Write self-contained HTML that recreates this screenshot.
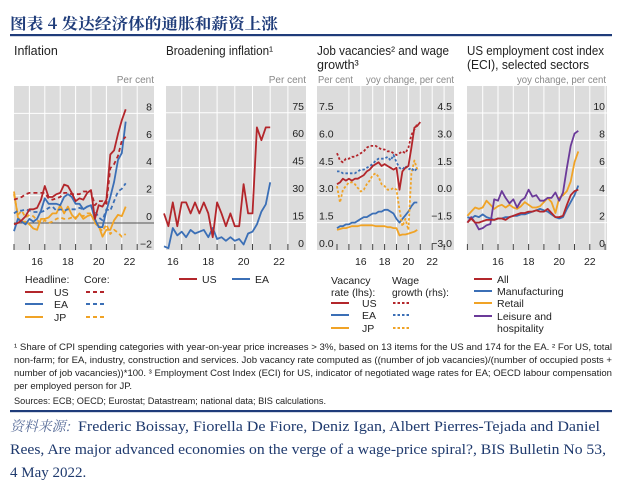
<!DOCTYPE html>
<html><head><meta charset="utf-8"><style>
html,body{margin:0;padding:0;background:#fff;}
svg{display:block;font-family:"Liberation Sans","Noto Sans CJK SC",sans-serif;}
</style></head><body>
<svg id="chart" width="634" height="492" viewBox="0 0 634 492" xmlns="http://www.w3.org/2000/svg">
<text x="10" y="29" font-size="15.5" font-weight="bold" fill="#1f3c7a" textLength="268" lengthAdjust="spacingAndGlyphs" font-family="'Noto Serif CJK SC','Liberation Serif',serif">图表 4  发达经济体的通胀和薪资上涨</text>
<rect x="10" y="34" width="602" height="2.2" fill="#1f3c7a"/>
<g id="panels"></g>
<g font-size="9" fill="#222">
<text x="14" y="350" textLength="598" lengthAdjust="spacingAndGlyphs">¹  Share of CPI spending categories with year-on-year price increases &gt; 3%, based on 13 items for the US and 174 for the EA.    ²  For US, total</text>
<text x="14" y="363" textLength="598" lengthAdjust="spacingAndGlyphs">non-farm; for EA, industry, construction and services. Job vacancy rate computed as ((number of job vacancies)/(number of occupied posts +</text>
<text x="14" y="376" textLength="598" lengthAdjust="spacingAndGlyphs">number of job vacancies))*100.    ³  Employment Cost Index (ECI) for US, indicator of negotiated wage rates for EA; OECD labour compensation</text>
<text x="14" y="389" textLength="118" lengthAdjust="spacingAndGlyphs">per employed person for JP.</text>
<text x="14" y="404" textLength="312" lengthAdjust="spacingAndGlyphs">Sources: ECB; OECD; Eurostat; Datastream; national data; BIS calculations.</text>
</g>
<rect x="10" y="410" width="602" height="2.2" fill="#1f3c7a"/>
<g font-family="'Liberation Serif','Noto Serif CJK SC',serif" font-size="15" fill="#1f3a6e">
<text x="10" y="431" fill="#5a6e9a" font-style="italic" font-family="'Noto Serif CJK SC',serif" font-size="14" textLength="60" lengthAdjust="spacingAndGlyphs">资料来源:</text>
<text x="78" y="431" textLength="522" lengthAdjust="spacingAndGlyphs">Frederic Boissay, Fiorella De Fiore, Deniz Igan, Albert Pierres-Tejada and Daniel</text>
<text x="10" y="454" textLength="596" lengthAdjust="spacingAndGlyphs">Rees, Are major advanced economies on the verge of a wage-price spiral?, BIS Bulletin No 53,</text>
<text x="10" y="477">4 May 2022.</text>
</g>
</svg>
<script>
// ---------- DATA ----------
const p1Start = 2015, p1Step = 0.25;
const p1UsHeadline = [-0.1,0.0,0.2,0.5,1.0,1.0,1.1,1.7,2.7,1.9,1.9,2.1,2.2,2.8,2.7,2.2,1.6,1.8,1.7,2.2,2.4,0.3,1.3,1.2,1.7,5.0,5.3,6.5,7.5,8.3];
const p1UsCore = [1.7,1.8,1.9,2.1,2.2,2.2,2.2,2.2,2.2,1.8,1.7,1.8,1.9,2.2,2.2,2.1,2.1,2.1,2.3,2.3,2.3,1.3,1.6,1.6,1.4,4.0,4.3,4.9,6.0,6.3];
const p1EaHeadline = [-0.6,0.3,0.1,-0.1,0.3,0.1,0.3,0.9,1.8,1.4,1.4,1.4,1.3,1.9,2.1,1.9,1.4,1.4,1.0,1.2,1.3,0.3,-0.3,-0.3,0.9,1.9,3.0,4.6,5.1,7.4];
const p1EaCore = [0.7,0.9,0.9,1.0,0.9,0.8,0.8,0.8,0.9,1.1,1.2,0.9,1.0,0.9,1.0,1.0,1.0,1.1,1.0,1.2,1.2,0.9,0.4,0.2,1.0,0.9,1.6,2.3,2.5,2.9];
const p1JpHeadline = [2.3,0.4,0.1,0.1,-0.1,-0.4,-0.5,0.3,0.3,0.4,0.7,0.7,1.3,0.7,1.2,0.6,0.3,0.7,0.3,0.5,0.6,0.1,-0.2,-1.0,-0.5,-0.5,0.2,0.6,0.5,1.2];
const p1JpCore = [2.1,0.6,0.9,0.4,0.6,0.5,0.2,0.0,0.2,0.0,0.1,0.3,0.4,0.3,0.3,0.4,0.4,0.6,0.5,0.7,0.7,0.0,-0.3,-0.6,-0.1,-0.8,-0.5,-0.7,-1.0,-0.8];
const p1YTicks = [-2,0,2,4,6,8];
const p1XLabels = ["16","18","20","22"];

const p2Start = 2016, p2Step = 0.25;
const p2Us = [20,13,26,13,26,26,20,26,20,26,20,7,26,20,13,20,13,13,36,20,20,67,60,67,67];
const p2Ea = [2,1,12,8,10,7,11,9,10,11,7,12,6,7,5,7,5,6,3,9,10,14,21,25,37];
const p2YTicks = [0,15,30,45,60,75];
const p2XLabels = ["16","18","20","22"];

const p3Start = 2014, p3Step = 0.25;
const p3UsVac = [3.6,3.7,3.9,3.8,3.9,3.8,3.9,3.9,4.0,4.1,4.3,4.4,4.6,4.7,4.8,4.6,4.7,4.6,4.5,4.4,4.5,3.3,4.3,4.5,4.6,5.6,6.7,6.8,7.0];
const p3EaVac = [1.2,1.3,1.3,1.4,1.4,1.5,1.5,1.6,1.7,1.8,1.8,1.9,2.0,2.0,2.1,2.1,2.2,2.2,2.1,2.0,1.7,1.5,1.7,1.9,2.1,2.4,2.6,2.6];
const p3JpVac = [1.1,1.15,1.2,1.2,1.25,1.3,1.3,1.3,1.35,1.35,1.35,1.35,1.35,1.3,1.3,1.3,1.3,1.25,1.25,1.2,1.2,0.8,0.85,0.85,0.9,0.95,1.0,1.1];
const p3UsWage = [2.3,1.9,1.8,2.0,2.0,2.1,2.1,2.2,2.3,2.4,2.6,2.7,2.7,2.7,2.6,2.5,2.5,2.4,2.4,2.3,2.2,2.3,2.4,2.3,2.6,3.3,3.6,3.9];
const p3EaWage = [1.3,1.3,1.2,1.2,1.2,1.2,1.2,1.3,1.4,1.4,1.5,1.6,1.7,1.9,2.0,2.0,2.0,2.1,1.9,2.2,1.8,1.5,1.4,1.6,1.4,1.5,1.3,1.5];
const p3JpWage = [0.5,-0.4,0.3,0.5,0.7,0.7,0.6,0.4,0.2,0.3,0.6,0.8,1.1,1.2,1.0,0.6,0.5,0.3,0.3,0.4,0.3,-0.8,-1.7,-1.3,-1.9,1.2,1.9,1.4];
const p3LTicks = ["0.0","1.5","3.0","4.5","6.0","7.5"];
const p3RTicks = ["−3.0","−1.5","0.0","1.5","3.0","4.5"];
const p3XLabels = ["16","18","20","22"];

const p4Start = 2014, p4Step = 0.25;
const p4All = [2.0,2.3,2.0,2.0,2.1,2.2,2.2,2.2,2.3,2.3,2.2,2.4,2.5,2.6,2.7,2.7,2.8,2.8,2.9,2.8,2.8,3.0,2.7,2.4,2.4,2.5,3.3,4.0,4.3,4.4];
const p4Mfg = [2.4,2.3,2.5,2.4,2.6,2.4,2.3,2.2,2.3,2.3,2.4,2.4,2.5,2.5,2.6,2.6,2.7,2.8,2.9,3.0,2.9,2.8,2.6,2.4,2.3,2.4,3.0,3.5,4.0,4.7];
const p4Retail = [2.5,2.8,3.1,3.0,3.1,3.6,3.3,3.0,3.2,3.3,3.1,3.3,3.1,3.0,3.2,3.5,3.3,3.1,3.1,3.2,3.5,3.8,3.5,2.7,3.8,4.0,4.3,5.0,6.4,7.2];
const p4Leisure = [2.0,2.4,2.0,1.5,1.6,1.8,1.9,3.7,3.6,4.3,3.8,3.4,3.7,3.1,3.6,3.8,4.4,3.9,4.0,3.6,3.6,3.8,3.8,4.2,3.6,4.2,6.0,7.6,8.5,8.7];
const p4YTicks = [0,2,4,6,8,10];
const p4XLabels = ["16","18","20","22"];

// ---------- COLOURS ----------
const RED="#b3262b", BLUE="#3b6fb6", ORANGE="#f0a326", PURPLE="#6b3a99";
const NS="http://www.w3.org/2000/svg";
const root=document.getElementById('panels');
function mk(tag, attrs, parent){const e=document.createElementNS(NS,tag);for(const k in attrs)e.setAttribute(k,attrs[k]);(parent||root).appendChild(e);return e;}
function txt(x,y,s,attrs,parent){const e=mk('text',Object.assign({x:x,y:y},attrs||{}),parent);e.textContent=s;return e;}

function panel(name,x0,x1,y0,y1){
  const g=mk('g',{});
  
  
  const bg=mk('rect',{x:x0,y:y0,width:x1-x0,height:y1-y0,fill:"#dcdcdc"},g);
  
  
  return g;
}
function vgrid(g,xs,y0,y1){xs.forEach(x=>{const l=mk('line',{x1:x,x2:x,y1:y0,y2:y1,stroke:"#fff","stroke-width":1},g);});}
function hgrid(g,ys,x0,x1){ys.forEach(y=>{const l=mk('line',{x1:x0,x2:x1,y1:y,y2:y,stroke:"#fff","stroke-width":1},g);});}
function ticks(g,xs,yb){xs.forEach(x=>{const l=mk('line',{x1:x,x2:x,y1:yb-6,y2:yb,stroke:"#444","stroke-width":1},g);});}
function series(g,name,vals,start,step,X,Y,color,dash){
  const pts=vals.map((v,i)=>X(start+i*step).toFixed(1)+","+Y(v).toFixed(1)).join(" ");
  const a={points:pts,fill:"none",stroke:color,"stroke-width":1.8,"stroke-linejoin":"round"};
  if(dash)a["stroke-dasharray"]=dash;
  const p=mk('polyline',a,g);
  
  
}
function legendLine(g,x,y,color,dash,name){
  const a={x1:x,x2:x+18,y1:y,y2:y,stroke:color,"stroke-width":2};
  if(dash)a["stroke-dasharray"]=dash;
  const l=mk('line',a,g);
  
  
}
const FS={"font-size":10.5,fill:"#222"};
const GRAY={"font-size":10,fill:"#888"};
const TT={"font-size":12.5,fill:"#222"};
const XLY=265;

// ---------- PANEL 1 ----------
(function(){
  const x0=14,x1=154,y0=86,y1=250;
  const X=t=>14+(t-2015)*15.4, Y=v=>223-v*13.7;
  const g=panel('inflation-panel',x0,x1,y0,y1);
  const yrs=[2016,2017,2018,2019,2020,2021,2022,2023];
  vgrid(g,yrs.map(X),y0,y1);
  hgrid(g,p1YTicks.filter(v=>v>0).map(Y),x0,x1);
  const z=mk('line',{x1:x0,x2:x1,y1:Y(0),y2:Y(0),stroke:"#555","stroke-width":1},g);
  
  ticks(g,[2015].concat(yrs).map(X),y1);
  series(g,'jp-core',p1JpCore,p1Start,p1Step,X,Y,ORANGE,"4,3");
  series(g,'jp-headline',p1JpHeadline,p1Start,p1Step,X,Y,ORANGE);
  series(g,'ea-core',p1EaCore,p1Start,p1Step,X,Y,BLUE,"4,3");
  series(g,'ea-headline',p1EaHeadline,p1Start,p1Step,X,Y,BLUE);
  series(g,'us-core',p1UsCore,p1Start,p1Step,X,Y,RED,"4,3");
  series(g,'us-headline',p1UsHeadline,p1Start,p1Step,X,Y,RED);
  p1YTicks.forEach(v=>{const t=txt(152,Y(v)-3,v<0?"−"+Math.abs(v):String(v),Object.assign({"text-anchor":"end"},FS),g);});
  p1XLabels.forEach((s,i)=>{const t=txt(X(2016+2*i+0.5),XLY,s,Object.assign({"text-anchor":"middle"},FS),g);});
  const tt=txt(14,55,"Inflation",TT,g);
  const u=txt(154,83,"Per cent",Object.assign({"text-anchor":"end"},GRAY),g);
  const lg=mk('g',{},g);
  txt(25,283,"Headline:",FS,lg);txt(84,283,"Core:",FS,lg);
  [["US",RED,292],["EA",BLUE,304],["JP",ORANGE,317]].forEach(r=>{
    legendLine(lg,25,r[2],r[1],null,'legend-headline-'+r[0].toLowerCase());
    txt(54,r[2]+4,r[0],FS,lg);
    legendLine(lg,86,r[2],r[1],"4,3",'legend-core-'+r[0].toLowerCase());
  });
})();

// ---------- PANEL 2 ----------
(function(){
  const x0=166,x1=306,y0=86,y1=250;
  const X=t=>164+(t-2016)*17.7, Y=v=>250-v*1.83;
  const g=panel('broadening-inflation-panel',x0,x1,y0,y1);
  const yrs=[2017,2018,2019,2020,2021,2022,2023];
  vgrid(g,yrs.map(X),y0,y1);
  hgrid(g,p2YTicks.filter(v=>v>0).map(Y),x0,x1);
  ticks(g,yrs.map(X),y1);
  series(g,'ea-share',p2Ea,p2Start,p2Step,X,Y,BLUE);
  series(g,'us-share',p2Us,p2Start,p2Step,X,Y,RED);
  p2YTicks.forEach(v=>{const t=txt(304,Y(v)-3,String(v),Object.assign({"text-anchor":"end"},FS),g);});
  p2XLabels.forEach((s,i)=>{const t=txt(X(2016+2*i+0.5),XLY,s,Object.assign({"text-anchor":"middle"},FS),g);});
  const tt=txt(166,55,"Broadening inflation¹",Object.assign({textLength:107,lengthAdjust:"spacingAndGlyphs"},TT),g);
  const u=txt(306,83,"Per cent",Object.assign({"text-anchor":"end"},GRAY),g);
  const lg=mk('g',{},g);
  legendLine(lg,179,279,RED,null,'legend-us');txt(202,283,"US",FS,lg);
  legendLine(lg,232,279,BLUE,null,'legend-ea');txt(255,283,"EA",FS,lg);
})();

// ---------- PANEL 3 ----------
(function(){
  const x0=317,x1=454,y0=86,y1=250;
  const X=t=>337+(t-2014)*11.9, YL=v=>250-v*18.27, YR=v=>250-(v+3)*18.27;
  const g=panel('vacancies-wages-panel',x0,x1,y0,y1);
  const yrs=[2015,2016,2017,2018,2019,2020,2021,2022,2023];
  vgrid(g,yrs.map(X),y0,y1);
  hgrid(g,[1.5,3,4.5,6,7.5].map(YL),x0,x1);
  ticks(g,[2014].concat(yrs).map(X),y1);
  series(g,'jp-vacancy',p3JpVac,p3Start,p3Step,X,YL,ORANGE);
  series(g,'ea-vacancy',p3EaVac,p3Start,p3Step,X,YL,BLUE);
  series(g,'jp-wage',p3JpWage,p3Start,p3Step,X,YR,ORANGE,"2.5,2");
  series(g,'ea-wage',p3EaWage,p3Start,p3Step,X,YR,BLUE,"2.5,2");
  series(g,'us-wage',p3UsWage,p3Start,p3Step,X,YR,RED,"2.5,2");
  series(g,'us-vacancy',p3UsVac,p3Start,p3Step,X,YL,RED);
  p3LTicks.forEach((s,i)=>{const t=txt(319,YL(i*1.5)-3,s,FS,g);});
  p3RTicks.forEach((s,i)=>{const t=txt(452,YL(i*1.5)-3,s,Object.assign({"text-anchor":"end"},FS),g);});
  p3XLabels.forEach((s,i)=>{const t=txt(X(2016+2*i),XLY,s,Object.assign({"text-anchor":"middle"},FS),g);});
  const tt=txt(317,55,"Job vacancies² and wage",Object.assign({textLength:132,lengthAdjust:"spacingAndGlyphs"},TT),g);
  txt(317,69,"growth³",TT,g);
  txt(318,83,"Per cent",Object.assign({textLength:35,lengthAdjust:"spacingAndGlyphs"},GRAY),g);
  const u=txt(366,83,"yoy change, per cent",Object.assign({textLength:88,lengthAdjust:"spacingAndGlyphs"},GRAY),g);
  const lg=mk('g',{},g);
  txt(331,284,"Vacancy",FS,lg);txt(331,296,"rate (lhs):",FS,lg);
  txt(392,284,"Wage",FS,lg);txt(392,296,"growth (rhs):",Object.assign({textLength:57,lengthAdjust:"spacingAndGlyphs"},FS),lg);
  [["US",RED,303],["EA",BLUE,315],["JP",ORANGE,328]].forEach(r=>{
    legendLine(lg,331,r[2],r[1],null,'legend-vacancy-'+r[0].toLowerCase());
    txt(362,r[2]+4,r[0],FS,lg);
    legendLine(lg,393,r[2],r[1],"2.5,2",'legend-wage-'+r[0].toLowerCase());
  });
})();

// ---------- PANEL 4 ----------
(function(){
  const x0=467,x1=607,y0=86,y1=250;
  const X=t=>498+(t-2016)*15.3, Y=v=>250-v*13.7;
  const g=panel('eci-panel',x0,x1,y0,y1);
  const yrs=[2015,2016,2017,2018,2019,2020,2021,2022,2023];
  vgrid(g,yrs.map(X),y0,y1);
  hgrid(g,p4YTicks.filter(v=>v>0).map(Y),x0,x1);
  ticks(g,[2014].concat(yrs).map(X),y1);
  series(g,'manufacturing',p4Mfg,p4Start,p4Step,X,Y,BLUE);
  series(g,'retail',p4Retail,p4Start,p4Step,X,Y,ORANGE);
  series(g,'leisure-hospitality',p4Leisure,p4Start,p4Step,X,Y,PURPLE);
  series(g,'all-sectors',p4All,p4Start,p4Step,X,Y,RED);
  p4YTicks.forEach(v=>{const t=txt(605,Y(v)-3,String(v),Object.assign({"text-anchor":"end"},FS),g);});
  p4XLabels.forEach((s,i)=>{const t=txt(X(2016+2*i),XLY,s,Object.assign({"text-anchor":"middle"},FS),g);});
  const tt=txt(467,55,"US employment cost index",Object.assign({textLength:137,lengthAdjust:"spacingAndGlyphs"},TT),g);
  txt(467,69,"(ECI), selected sectors",Object.assign({textLength:122,lengthAdjust:"spacingAndGlyphs"},TT),g);
  const u=txt(517,83,"yoy change, per cent",Object.assign({textLength:89,lengthAdjust:"spacingAndGlyphs"},GRAY),g);
  const lg=mk('g',{},g);
  [["All",RED,279],["Manufacturing",BLUE,291],["Retail",ORANGE,303],["Leisure and",PURPLE,316]].forEach(r=>{
    legendLine(lg,474,r[2],r[1],null,'legend-'+r[0].split(' ')[0].toLowerCase());
    txt(497,r[2]+4,r[0],FS,lg);
  });
  txt(497,332,"hospitality",FS,lg);
})();
</script>
</body></html>
